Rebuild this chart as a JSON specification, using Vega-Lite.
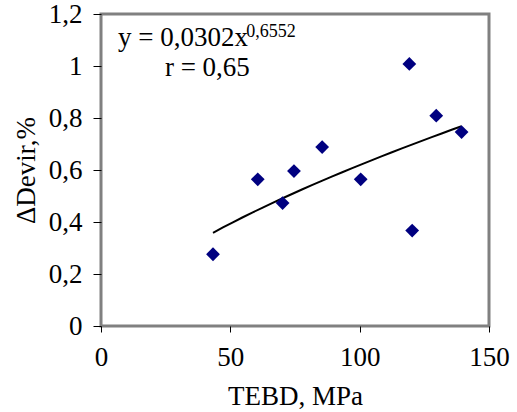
{
  "$schema": "https://vega.github.io/schema/vega-lite/v6.json",
  "width": 388,
  "height": 312,
  "autosize": {"type": "none"},
  "padding": {"left": 101, "top": 14, "right": 28, "bottom": 86},
  "background": "white",
  "config": {
    "font": "Liberation Serif",
    "locale": {"number": {"decimal": ",", "thousands": " ", "grouping": [3], "currency": ["", ""]}},
    "view": {"stroke": "#808080", "strokeWidth": 3}
  },
  "data": {
    "values": [
      {"tebd": 43.3, "dev": 0.276},
      {"tebd": 60.6, "dev": 0.564},
      {"tebd": 70.2, "dev": 0.473},
      {"tebd": 74.6, "dev": 0.596},
      {"tebd": 85.5, "dev": 0.688},
      {"tebd": 100.4, "dev": 0.564},
      {"tebd": 119.2, "dev": 1.008},
      {"tebd": 120.3, "dev": 0.367},
      {"tebd": 129.6, "dev": 0.809},
      {"tebd": 139.4, "dev": 0.746}
    ]
  },
  "layer": [
    {
      "transform": [{"regression": "dev", "on": "tebd", "method": "pow"}],
      "mark": {"type": "line", "color": "black", "strokeWidth": 2},
      "encoding": {
        "x": {"field": "tebd", "type": "quantitative"},
        "y": {"field": "dev", "type": "quantitative"}
      }
    },
    {
      "mark": {"type": "point", "shape": "diamond", "filled": true, "color": "#000080", "opacity": 1, "size": 190},
      "encoding": {
        "x": {
          "field": "tebd", "type": "quantitative",
          "scale": {"domain": [0, 150], "nice": false},
          "axis": {
            "values": [0, 50, 100, 150], "title": "TEBD, MPa",
            "domain": false, "grid": false, "tickColor": "black", "tickSize": 6,
            "labelFlush": false, "labelOverlap": false,
            "labelFont": "Liberation Serif", "labelFontSize": 27, "labelColor": "black", "labelPadding": 12,
            "titleFont": "Liberation Serif", "titleFontSize": 27, "titleFontWeight": "normal", "titleColor": "black",
            "titleY": 57, "titleBaseline": "top"
          }
        },
        "y": {
          "field": "dev", "type": "quantitative",
          "scale": {"domain": [0, 1.2], "nice": false},
          "axis": {
            "values": [0, 0.2, 0.4, 0.6, 0.8, 1, 1.2], "format": ".1~f", "title": "ΔDevir,%",
            "domain": false, "grid": false, "tickColor": "black", "tickSize": 8,
            "labelFlush": false, "labelOverlap": false,
            "labelFont": "Liberation Serif", "labelFontSize": 27, "labelColor": "black", "labelPadding": 11,
            "titleFont": "Liberation Serif", "titleFontSize": 27, "titleFontWeight": "normal", "titleColor": "black",
            "titleX": -61, "titleY": 156
          }
        }
      }
    },
    {
      "data": {"values": [{"label": "y = 0,0302x"}]},
      "mark": {"type": "text", "align": "left", "baseline": "middle", "fontSize": 27, "font": "Liberation Serif", "color": "black"},
      "encoding": {
        "x": {"datum": 6.6, "type": "quantitative"},
        "y": {"datum": 1.108, "type": "quantitative"},
        "text": {"field": "label"}
      }
    },
    {
      "data": {"values": [{"label": "0,6552"}]},
      "mark": {"type": "text", "align": "left", "baseline": "middle", "fontSize": 18, "font": "Liberation Serif", "color": "black"},
      "encoding": {
        "x": {"datum": 56.2, "type": "quantitative"},
        "y": {"datum": 1.131, "type": "quantitative"},
        "text": {"field": "label"}
      }
    },
    {
      "data": {"values": [{"label": "r = 0,65"}]},
      "mark": {"type": "text", "align": "left", "baseline": "middle", "fontSize": 27, "font": "Liberation Serif", "color": "black"},
      "encoding": {
        "x": {"datum": 24.7, "type": "quantitative"},
        "y": {"datum": 0.992, "type": "quantitative"},
        "text": {"field": "label"}
      }
    }
  ]
}
